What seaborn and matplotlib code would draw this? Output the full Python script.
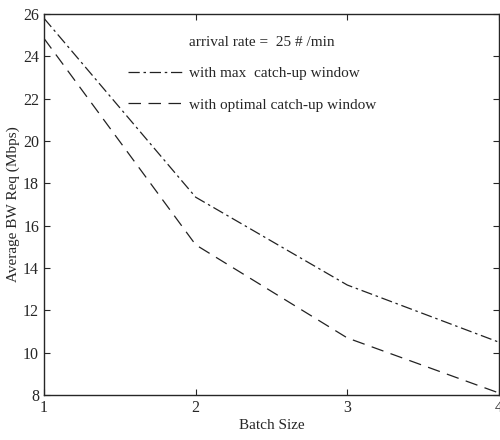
import matplotlib

matplotlib.use("Agg")

import matplotlib.pyplot as plt
import pandas as pd
import seaborn as sns
from matplotlib.lines import Line2D

batch_size = [1, 2, 3, 4]
bw_max_window = [25.8, 17.35, 13.2, 10.5]
bw_optimal_window = [24.85, 15.1, 10.7, 8.1]
series_names = ["with max  catch-up window", "with optimal catch-up window"]
legend_title = "arrival rate =  25 # /min"

df = pd.DataFrame(
    {
        "Batch Size": batch_size * 2,
        "BW": bw_max_window + bw_optimal_window,
        "series": [series_names[0]] * 4 + [series_names[1]] * 4,
    }
)

sns.set_style("ticks")
plt.rcParams["font.family"] = ["Liberation Serif", "DejaVu Serif"]

fig = plt.figure(figsize=(5.0, 4.4), dpi=100)
ax = fig.add_axes([0.088, 0.102, 0.91, 0.866])

styles = {series_names[0]: (0, (9, 3, 2, 3)), series_names[1]: (0, (10, 6))}
for name in series_names:
    sub = df[df["series"] == name]
    sns.lineplot(
        data=sub, x="Batch Size", y="BW", ax=ax, color="#222222",
        linewidth=0.9, linestyle=styles[name], legend=False,
    )

ax.set_xlim(1, 4)
ax.set_ylim(8, 26)
ax.set_xticks(batch_size)
ax.set_yticks(range(8, 27, 2))
ax.tick_params(direction="in", length=4, labelsize=11.5, top=True, right=True, width=0.8)
for spine in ax.spines.values():
    spine.set_visible(True)
    spine.set_linewidth(1.0)
ax.set_xlabel("Batch Size", fontsize=11, labelpad=2)
ax.set_ylabel("Average BW Req (Mbps)", fontsize=11, labelpad=2)

handles = [
    Line2D([], [], linestyle="none"),
    Line2D([], [], color="#222222", linewidth=0.9, linestyle=styles[series_names[0]]),
    Line2D([], [], color="#222222", linewidth=0.9, linestyle=styles[series_names[1]]),
]
ax.legend(
    handles, [legend_title] + series_names, loc="upper left",
    bbox_to_anchor=(0.155, 0.98), frameon=False, fontsize=11,
    handlelength=3.5, labelspacing=1.15, handletextpad=0.5,
)

fig.savefig("out.png", dpi=100)
